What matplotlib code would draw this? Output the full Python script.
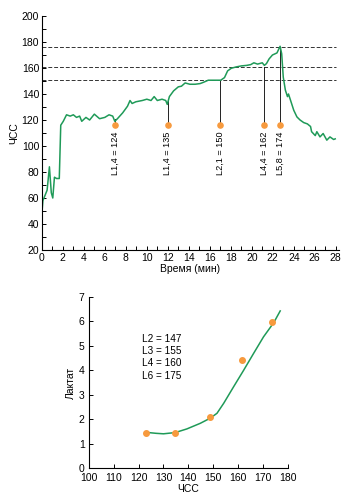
import matplotlib
matplotlib.use("Agg")
import matplotlib.pyplot as plt
import numpy as np

plt.rcParams["font.family"] = ["Liberation Sans", "DejaVu Sans"]
plt.rcParams["font.size"] = 7.5

# heart rate over time
time_min = [0, 0.1, 0.3, 0.5, 0.72, 0.9, 1.04, 1.2, 1.4, 1.66, 1.8, 2.04, 2.35, 2.7, 3.0,
            3.3, 3.6, 3.8, 4.2, 4.55, 5.0, 5.5, 6.0, 6.4, 6.75, 6.95, 7.2, 7.7, 8.16,
            8.4, 8.6, 8.95, 9.57, 10.0, 10.4, 10.7, 11.0, 11.45, 11.8, 11.95, 12.15,
            12.55, 13.0, 13.3, 13.65, 14.1, 14.6, 15.07, 15.4, 15.85, 16.5, 17.04,
            17.4, 17.7, 18.05, 18.5, 19.0, 19.5, 19.9, 20.2, 20.55, 21.0, 21.2, 21.4,
            21.65, 21.97, 22.4, 22.6, 22.7, 22.85, 23.0, 23.2, 23.4, 23.5, 23.7, 24.0,
            24.3, 24.6, 24.95, 25.3, 25.6, 25.7, 26.05, 26.2, 26.5, 26.8, 27.15, 27.45,
            27.8, 27.95]
hr = [48, 58, 62, 66, 84, 64, 60, 76, 75, 75, 116, 119, 124, 123, 124,
      122, 123, 119, 122, 120, 124.5, 121, 122, 124, 123, 119, 121, 125.5, 130.6,
      135, 132.7, 134, 135, 136, 135, 138, 135, 136, 135, 132, 138,
      142.4, 145.5, 146, 148.5, 147.5, 147.5, 148, 149, 150.6, 150.6, 150.6,
      152.6, 157.8, 159.8, 160.8, 161.6, 162, 162.6, 164, 163, 164, 162, 163.4,
      167, 170, 171.6, 175, 176.7, 171, 153, 143, 138, 140, 135, 127.5,
      122.4, 120, 118, 117, 115, 111, 108, 111, 107, 109.6, 104.5, 107,
      105, 105.5]

# thresholds and markers on the HR curve
thresh_hr = [176, 161, 151]
mark_t = [7.0, 12.0, 17.0, 21.2, 22.7]
mark_hr = [121, 135, 151, 161, 176.5]
mark_labels = ["L1,4 = 124", "L1,4 = 135", "L2,1 = 150", "L4,4 = 162", "L5,8 = 174"]

# lactate vs HR
lac_hr = [123, 134.7, 148.5, 161.5, 173.6]
lac_val = [1.45, 1.43, 2.08, 4.44, 5.98]
fit_hr = [124, 127, 130, 134.7, 139.4, 144.8, 148.8, 151.5, 154.2, 158.2, 162.2,
          166.2, 170.2, 174.3, 176.9]
fit_lac = [1.45, 1.42, 1.40, 1.45, 1.60, 1.83, 2.04, 2.24, 2.65, 3.33, 4.0,
           4.69, 5.37, 5.95, 6.43]
thr_text = "L2 = 147\nL3 = 155\nL4 = 160\nL6 = 175"

green = "#1f9a58"
orange = "#f79a3e"

fig = plt.figure(figsize=(3.64, 5.0), dpi=100)
ax1 = fig.add_axes([0.115, 0.5, 0.816, 0.468])
ax2 = fig.add_axes([0.244, 0.064, 0.547, 0.342])

for ax in (ax1, ax2):
    ax.spines["top"].set_visible(False)
    ax.spines["right"].set_visible(False)
    ax.tick_params(direction="in", which="both", length=3, width=0.7, pad=2)
    ax.spines["left"].set_linewidth(0.8)
    ax.spines["bottom"].set_linewidth(0.8)

# top chart
for h in thresh_hr:
    ax1.plot([0, 28], [h, h], color="#333333", lw=0.7, ls=(0, (4, 2)))
for t, h, lab in zip(mark_t, mark_hr, mark_labels):
    ax1.plot([t, t], [116.5, h], color="#222222", lw=0.7)
    ax1.text(t, 111, lab, rotation=90, ha="center", va="top", fontsize=6.6)
ax1.plot(time_min, hr, color=green, lw=1.1)
ax1.scatter(mark_t, [116.5] * len(mark_t), s=14, color=orange, zorder=5)

ax1.set_xlim(0, 28.3)
ax1.set_ylim(20, 200)
ax1.set_xticks(np.arange(0, 29, 2))
ax1.set_xticks(np.arange(0, 29, 1), minor=True)
ax1.set_yticks(np.arange(20, 201, 20))
ax1.set_yticks(np.arange(20, 201, 10), minor=True)
ax1.set_xlabel("Время (мин)", labelpad=1)
ax1.set_ylabel("ЧСС", labelpad=2)

# bottom chart
ax2.plot(fit_hr, fit_lac, color=green, lw=1.1)
ax2.scatter(lac_hr, lac_val, s=16, color=orange, zorder=5)
ax2.text(121.3, 5.5, thr_text, ha="left", va="top", fontsize=7.2, linespacing=1.3)
ax2.set_xlim(100, 180)
ax2.set_ylim(0, 7)
ax2.set_xticks(np.arange(100, 181, 10))
ax2.set_yticks(np.arange(0, 8, 1))
ax2.tick_params(axis="x", pad=3.5)
ax2.tick_params(axis="y", pad=3)
ax2.set_xlabel("ЧСС", labelpad=1)
ax2.set_ylabel("Лактат", labelpad=2)

fig.savefig("out.png", dpi=100)
